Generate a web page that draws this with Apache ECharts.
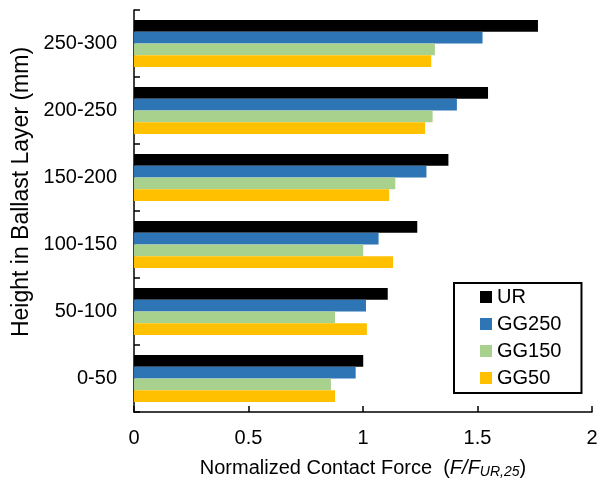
<!DOCTYPE html>
<html>
<head>
<meta charset="utf-8">
<script src="https://cdn.jsdelivr.net/npm/echarts@6/dist/echarts.min.js"></script>
<style>
  html, body { margin: 0; padding: 0; background: #fff; }
  #chart { width: 604px; height: 484px; }
</style>
</head>
<body>
<div id="chart"></div>
<script>
// Height bands in the ballast layer, listed from top of the layer down
const heightBands = ['250-300', '200-250', '150-200', '100-150', '50-100', '0-50'];

// Normalized contact force per band
const urValues    = [1.764, 1.546, 1.373, 1.237, 1.108, 1.001];
const gg250Values = [1.522, 1.410, 1.277, 1.068, 1.013, 0.968];
const gg150Values = [1.314, 1.304, 1.141, 1.001, 0.878, 0.860];
const gg50Values  = [1.298, 1.271, 1.114, 1.131, 1.017, 0.878];

const seriesNames  = ['UR', 'GG250', 'GG150', 'GG50'];
const seriesColors = ['#000000', '#2E75B6', '#A9D18E', '#FFC000'];
const seriesValues = [urValues, gg250Values, gg150Values, gg50Values];

const forceTicks = [0, 0.5, 1, 1.5, 2];

const FONT = 'Liberation Sans, Arial, sans-serif';

const chart = echarts.init(document.getElementById('chart'), null, { renderer: 'canvas' });

chart.setOption({
  animation: false,
  backgroundColor: '#ffffff',
  textStyle: { fontFamily: FONT, color: '#000' },
  grid: { left: 134, right: 12, top: 10, bottom: 69, containLabel: false },
  legend: {
    orient: 'vertical',
    left: 454,
    top: 283,
    padding: [4, 20, 5, 26],
    itemWidth: 12,
    itemHeight: 12,
    itemGap: 7,
    icon: 'rect',
    borderColor: '#000',
    borderWidth: 2,
    backgroundColor: '#fff',
    textStyle: { fontFamily: FONT, fontSize: 20, color: '#000', lineHeight: 20 },
    data: seriesNames
  },
  xAxis: {
    type: 'value',
    min: forceTicks[0],
    max: forceTicks[forceTicks.length - 1],
    interval: 0.5,
    splitLine: { show: false },
    axisLine: { show: true, lineStyle: { color: '#000', width: 1.5 } },
    axisTick: { show: true, inside: true, length: 6, lineStyle: { color: '#000', width: 1.5 } },
    axisLabel: {
      fontFamily: FONT, fontSize: 20, color: '#000', margin: 16,
      formatter: v => String(v)
    },
    name: '{n|Normalized Contact Force  (}{i|F/F}{s|UR,25}{n|)}',
    nameLocation: 'middle',
    nameGap: 45,
    nameTextStyle: {
      rich: {
        n: { fontFamily: FONT, fontSize: 20, color: '#000' },
        i: { fontFamily: FONT, fontSize: 20, color: '#000', fontStyle: 'italic' },
        s: { fontFamily: FONT, fontSize: 14, color: '#000', fontStyle: 'italic', padding: [8, 0, 0, 0] }
      }
    }
  },
  yAxis: {
    type: 'category',
    inverse: true,
    data: heightBands,
    axisLine: { show: true, lineStyle: { color: '#000', width: 1.5 } },
    axisTick: { show: true, inside: true, length: 6, lineStyle: { color: '#000', width: 1.5 } },
    axisLabel: { fontFamily: FONT, fontSize: 20, color: '#000', margin: 17 },
    name: 'Height in Ballast Layer (mm)',
    nameLocation: 'middle',
    nameGap: 98,
    nameTextStyle: { fontFamily: FONT, fontSize: 23, color: '#000', padding: [0, 0, 0, 38] }
  },
  series: seriesNames.map((name, i) => ({
    name: name,
    type: 'bar',
    data: seriesValues[i],
    barGap: '0%',
    barCategoryGap: '30%',
    itemStyle: { color: seriesColors[i] }
  }))
});
</script>
</body>
</html>
